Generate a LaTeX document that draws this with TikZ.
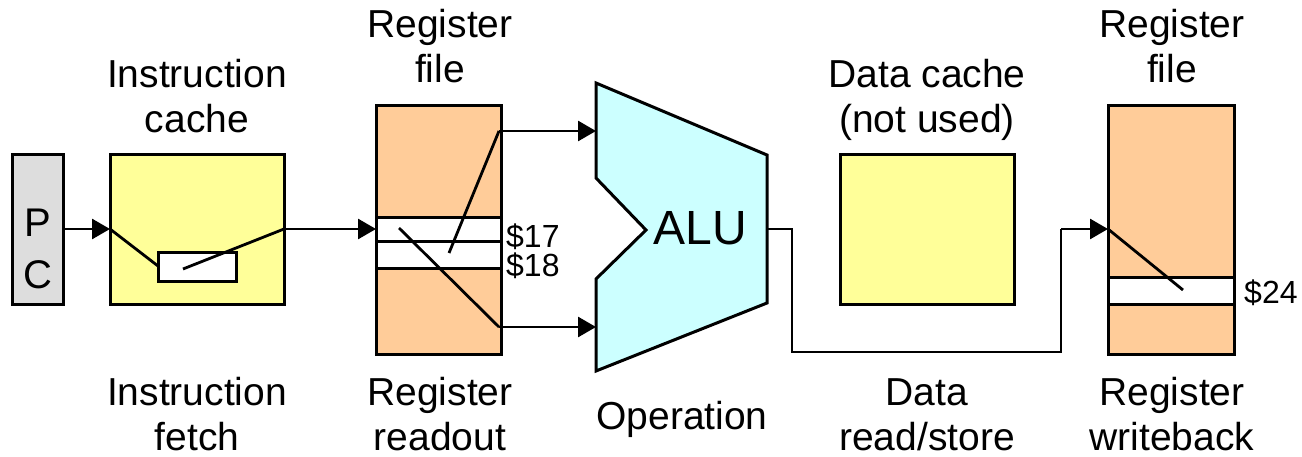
\documentclass[tikz,border=0pt]{standalone}
\usepackage{fontspec}
\setmainfont{Liberation Sans}
\usetikzlibrary{arrows.meta}
\definecolor{pcgray}{HTML}{DDDDDD}
\definecolor{cacheyellow}{HTML}{FFFF99}
\definecolor{regorange}{HTML}{FFCC99}
\definecolor{alucyan}{HTML}{CCFFFF}
\begin{document}
\begin{tikzpicture}[x=1pt,y=-1pt,line join=miter]
\useasboundingbox (0,0) rectangle (1302,457);
\tikzset{
  unit/.style={draw,line width=3pt,inner sep=0pt,outer sep=0pt},
  wire/.style={line width=2.8pt},
  arr/.style={wire,-{Triangle[length=18pt,width=20pt]}},
  lbl/.style={font=\fontsize{39}{45}\selectfont,align=center,inner sep=0pt,anchor=base},
  reglbl/.style={font=\fontsize{32}{32}\selectfont,inner sep=0pt,anchor=base west},
}
% program counter
\node[unit,fill=pcgray,minimum width=51pt,minimum height=150pt] (pc) at (37.5,230) {};
\node[font=\fontsize{40}{40}\selectfont,inner sep=0pt,anchor=base] (pcP) at (37.5,237) {P};
\node[font=\fontsize{40}{40}\selectfont,inner sep=0pt,anchor=base] (pcC) at (37.5,288) {C};
% instruction cache
\node[unit,fill=cacheyellow,minimum width=174pt,minimum height=150pt] (icache) at (197,230) {};
\node[unit,fill=white,minimum width=78pt,minimum height=29pt] (islot) at (197,267.5) {};
% register file (read)
\node[unit,fill=regorange,minimum width=125pt,minimum height=248pt] (rf1) at (438.5,230) {};
\node[unit,fill=white,minimum width=125pt,minimum height=24pt] (r17) at (438.5,230) {};
\node[unit,fill=white,minimum width=125pt,minimum height=27pt] (r18) at (438.5,255.5) {};
\node[reglbl] (l17) at (506,248) {\$17};
\node[reglbl] (l18) at (506,277) {\$18};
% ALU
\coordinate (aluA) at (596,83);
\coordinate (aluB) at (767,155);
\coordinate (aluC) at (767,303);
\coordinate (aluD) at (596,371);
\coordinate (aluE) at (596,279);
\coordinate (aluF) at (646,230);
\coordinate (aluG) at (596,178);
\draw[line width=3pt,fill=alucyan] (aluA) -- (aluB) -- (aluC) -- (aluD) -- (aluE) -- (aluF) -- (aluG) -- cycle;
\node[font=\fontsize{48}{48}\selectfont,inner sep=0pt] (alu) at (700,228) {ALU};
% data cache
\node[unit,fill=cacheyellow,minimum width=174pt,minimum height=150pt] (dcache) at (927,230) {};
% register file (write)
\node[unit,fill=regorange,minimum width=126pt,minimum height=248pt] (rf2) at (1171,230) {};
\node[unit,fill=white,minimum width=126pt,minimum height=27pt] (r24) at (1171,291.5) {};
\node[reglbl] (l24) at (1244,303) {\$24};
% connection points
\coordinate (icin) at (110,229);
\coordinate (icout) at (284,229);
\coordinate (islotL) at (158,266);
\coordinate (islotM) at (183,269);
\coordinate (rfin) at (376,229);
\coordinate (r17s) at (399,228);
\coordinate (r18s) at (449,253);
\coordinate (rdA) at (499,131);
\coordinate (rdB) at (499,327);
\coordinate (aluinA) at (596,131);
\coordinate (aluinB) at (596,327);
\coordinate (aluout) at (767,229);
\coordinate (bendA) at (792,229);
\coordinate (bendB) at (792,352);
\coordinate (bendC) at (1061,352);
\coordinate (bendD) at (1061,229);
\coordinate (wbin) at (1108,229);
\coordinate (r24e) at (1183,290);
% wires
\draw[arr] (pc.east |- icin) -- (icin);
\draw[wire] (icin) -- (islotL);
\draw[wire] (islotM) -- (icout);
\draw[arr] (icout) -- (rfin);
\draw[wire] (r17s) -- (rdB);
\draw[arr] (rdB) -- (aluinB);
\draw[wire] (r18s) -- (rdA);
\draw[arr] (rdA) -- (aluinA);
\draw[wire] (aluout) -- (bendA) -- (bendB) -- (bendC) -- (bendD);
\draw[arr] (bendD) -- (wbin);
\draw[wire] (wbin) -- (r24e);
% stage titles (base = last line)
\node[lbl] (tIC) at (197,133) {Instruction\\cache};
\node[lbl] (tRF1) at (440,83) {Register\\file};
\node[lbl] (tDC) at (927,133) {Data cache\\(not used)};
\node[lbl] (tRF2) at (1172,83) {Register\\file};
% stage names
\node[lbl] (sIF) at (197,450) {Instruction\\fetch};
\node[lbl] (sRR) at (440,450) {Register\\readout};
\node[lbl] (sOP) at (682,429) {Operation};
\node[lbl] (sDS) at (927,450) {Data\\read/store};
\node[lbl] (sWB) at (1172,450) {Register\\writeback};
\end{tikzpicture}
\end{document}
